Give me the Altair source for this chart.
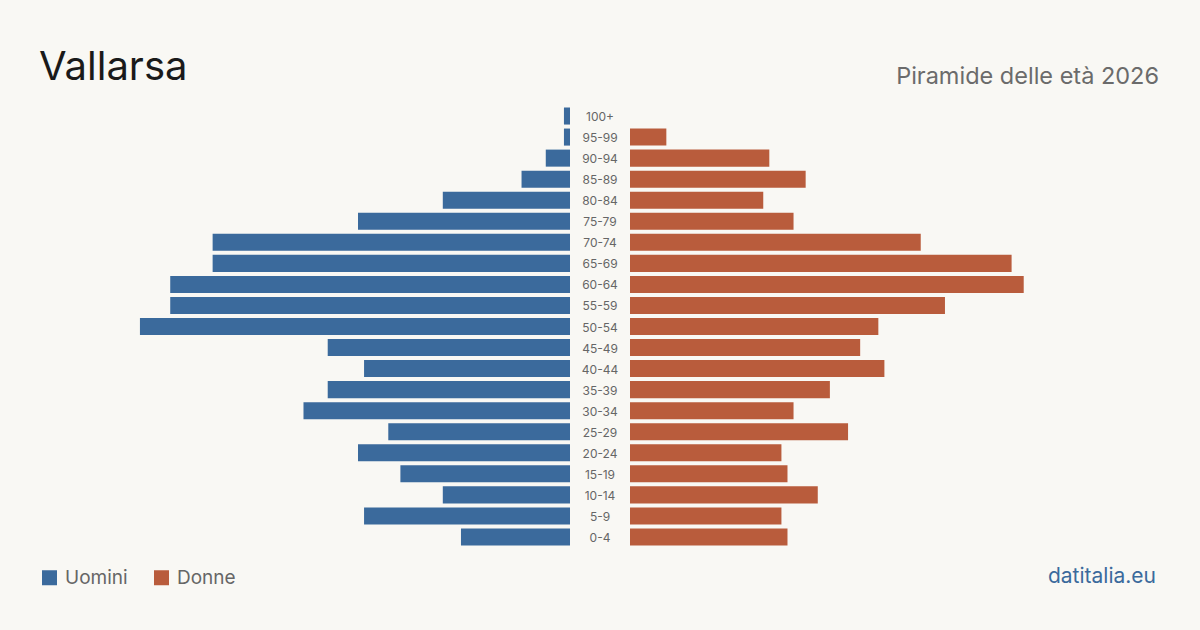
import altair as alt
import pandas as pd

ages = ["100+", "95-99", "90-94", "85-89", "80-84", "75-79", "70-74", "65-69",
        "60-64", "55-59", "50-54", "45-49", "40-44", "35-39", "30-34", "25-29",
        "20-24", "15-19", "10-14", "5-9", "0-4"]
uomini = [1, 1, 4, 8, 21, 35, 59, 59, 66, 66, 71, 40, 34, 40, 44, 30, 35, 28, 21, 34, 18]
donne = [0, 6, 23, 29, 22, 27, 48, 63, 65, 52, 41, 38, 42, 33, 27, 36, 25, 26, 31, 25, 26]
sexes = ["Uomini", "Donne"]
colors = ["#3b6a9c", "#b95c3c"]

title_text = "Vallarsa"
subtitle_text = "Piramide delle età 2026"
source_text = "datitalia.eu"

rows = []
for a, u, d in zip(ages, uomini, donne):
    rows.append({"age": a, "sex": "Uomini", "value": u})
    rows.append({"age": a, "sex": "Donne", "value": d})
df = pd.DataFrame(rows)

FONT = "Inter"
BG = "#f9f8f4"

y_enc = alt.Y("age:N", sort=ages, axis=None,
              scale=alt.Scale(domain=ages, range=[105.5, 547.5],
                              paddingInner=0.19, paddingOuter=0.095))
color_enc = alt.Color("sex:N",
                      scale=alt.Scale(domain=sexes, range=colors),
                      legend=alt.Legend(orient="none", legendX=40, legendY=568,
                                        direction="horizontal", title=None,
                                        symbolType="square", symbolSize=225,
                                        symbolStrokeWidth=0, symbolOpacity=1,
                                        labelFontSize=19, labelColor="#666666",
                                        labelFont=FONT, labelOffset=6,
                                        columnPadding=24))

base = alt.Chart(df)

left = base.transform_filter(alt.datum.sex == "Uomini").mark_bar().encode(
    x=alt.X("value:Q", axis=None,
            scale=alt.Scale(domain=[0, 87.5], range=[570, 40])),
    y=y_enc,
    color=color_enc,
)

right = base.transform_filter(alt.datum.sex == "Donne").mark_bar().encode(
    x=alt.X("value:Q", axis=None,
            scale=alt.Scale(domain=[0, 87.5], range=[630, 1160])),
    y=y_enc,
    color=color_enc,
)

labels = alt.Chart(pd.DataFrame({"age": ages})).mark_text(
    font=FONT, fontSize=12, color="#666666", align="center", baseline="middle", dy=1
).encode(
    x=alt.value(600),
    y=y_enc,
    text="age:N",
)

title = alt.Chart(pd.DataFrame({"t": [title_text]})).mark_text(
    font=FONT, fontSize=40, color="#1a1a1a", align="left", baseline="alphabetic"
).encode(x=alt.value(39), y=alt.value(80), text="t:N")

subtitle = alt.Chart(pd.DataFrame({"t": [subtitle_text]})).mark_text(
    font=FONT, fontSize=23.5, color="#6b6b6b", align="right", baseline="alphabetic"
).encode(x=alt.value(1159), y=alt.value(84), text="t:N")

source = alt.Chart(pd.DataFrame({"t": [source_text]})).mark_text(
    font=FONT, fontSize=21, color="#3b6a9c", align="right", baseline="alphabetic"
).encode(x=alt.value(1156), y=alt.value(583), text="t:N")

chart = alt.layer(left, right, labels, title, subtitle, source).resolve_scale(
    x="independent"
).properties(
    width=1200, height=630,
    autosize=alt.AutoSizeParams(type="none"),
    padding=0,
    background=BG,
).configure_view(stroke=None)

chart.save("out.html", embed_options={"renderer": "svg", "actions": False})
